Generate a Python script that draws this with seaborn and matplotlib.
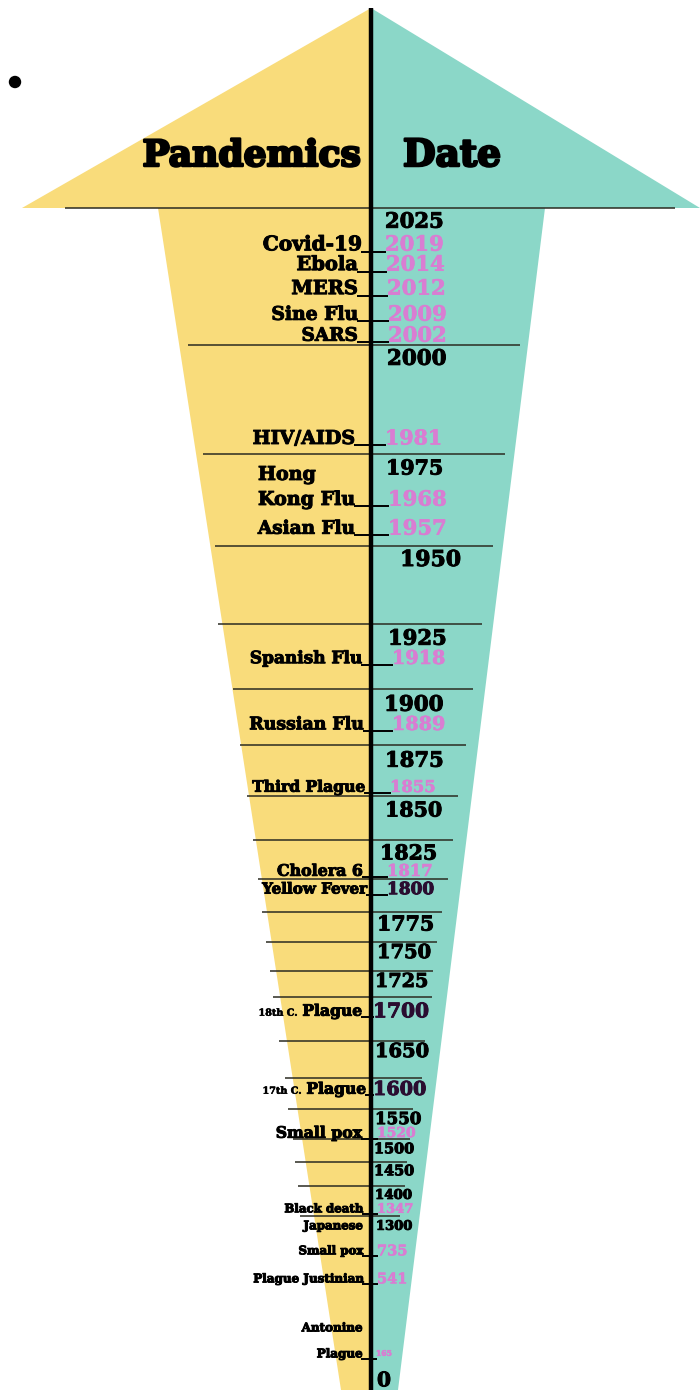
import numpy as np
import matplotlib
matplotlib.use("Agg")
import matplotlib.pyplot as plt
import matplotlib.patheffects as pe
import seaborn as sns

# ---- data -------------------------------------------------------------
events = ["Covid-19", "Ebola", "MERS", "Sine Flu", "SARS", "HIV/AIDS",
          "Hong\nKong Flu", "Asian Flu", "Spanish Flu", "Russian Flu",
          "Third Plague", "Cholera 6", "Yellow Fever", "18th C. Plague",
          "17th C. Plague", "Small pox", "Black death", "Japanese\nSmall pox",
          "Plague Justinian", "Antonine\nPlague"]
event_years = [2019, 2014, 2012, 2009, 2002, 1981, 1968, 1957, 1918, 1889,
               1855, 1817, 1800, 1700, 1600, 1520, 1347, 735, 541, 165]
scale_years = [2025, 2000, 1975, 1950, 1925, 1900, 1875, 1850, 1825, 1800,
               1775, 1750, 1725, 1700, 1650, 1600, 1550, 1500, 1450, 1400,
               1300, 0]

# ---- layout (pixel rows of the hand-drawn timeline) ------------------
event_y = [243, 263, 287, 313, 334, 437, 498, 527, 657, 723, 786, 870, 888,
           1010, 1088, 1132, 1208, 1250, 1278, 1353]
event_fs = [14.5, 14, 14, 13.5, 13.3, 13.7, 13.7, 13.3, 12.2, 12.5, 11.2, 11.4,
            10.9, 11.2, 11.2, 11.3, 8.5, 8.5, 8.6, 8.6]
label_right = [362, 358, 358, 358, 358, 355, 355, 355, 362, 364, 365, 363,
               367, 362, 366, 362, 363, 363, 363, 362]
line_gap = [0, 0, 0, 0, 0, 0, 25, 0, 0, 0, 0, 0, 0, 0, 0, 0, 0, 25, 0, 26]
first_align = ["right"] * 6 + ["left"] + ["right"] * 13
year_x = [385, 386, 387, 388, 388, 385, 388, 388, 392, 392, 390, 387, 387,
          373, 373, 377, 377, 377, 377, 376]
year_fs = [15.2, 15.2, 15.2, 15.2, 15.2, 14.8, 15.2, 15.2, 13.8, 13.8, 11.8,
           11.8, 12, 14, 14, 10, 9.4, 10.5, 10.5, 5.5]

scale_y = [220, 357, 467, 558, 637, 703, 759, 809, 852, 888, 923, 951, 980,
           1010, 1050, 1088, 1118, 1148, 1170, 1194, 1225, 1379]
scale_x = [385, 387, 386, 400, 388, 384, 385, 385, 380, 387, 377, 377, 375,
           373, 375, 373, 375, 374, 374, 375, 376, 377]
scale_fs = [15.2, 15.4, 14.8, 15.8, 15.2, 15.4, 15.2, 14.8, 14.8, 12.2, 14.8,
            14, 13.8, 14.5, 14, 13.8, 12, 10.4, 10.4, 9.6, 9.4, 14.5]

sep_y = [208, 345, 454, 546, 624, 689, 745, 796, 840, 879, 912, 942, 971, 997,
         1041, 1078, 1109, 1139, 1162, 1186, 1216]
sep_x0 = [65, 188, 203, 215, 218, 233, 240, 247, 253, 258, 262, 266, 270, 273,
          279, 285, 288, 293, 295, 298, 300]
sep_x1 = [675, 520, 505, 493, 482, 473, 466, 458, 453, 448, 442, 437, 433, 432,
          425, 422, 413, 410, 407, 405, 400]

YELLOW = "#f9dc7b"
TEAL = "#8bd7c8"
PINK = "#d97dd2"
FONT = "DejaVu Serif"

sns.set_theme(style="white")
plt.rcParams["font.family"] = [FONT, "DejaVu Sans"]

fig = plt.figure(figsize=(7, 13.9), dpi=100)
ax = fig.add_axes([0, 0, 1, 1])
ax.set_xlim(0, 700)
ax.set_ylim(1390, 0)
ax.axis("off")
renderer = fig.canvas.get_renderer()

AX_X = 371

# arrow head and shaft
ax.fill([22, AX_X, AX_X], [208, 8, 208], color=YELLOW, lw=0)
ax.fill([AX_X, 700, AX_X], [8, 208, 208], color=TEAL, lw=0)
ax.fill([158, AX_X, AX_X, 341], [208, 208, 1390, 1390], color=YELLOW, lw=0)
ax.fill([AX_X, 545, 398, AX_X], [208, 208, 1390, 1390], color=TEAL, lw=0)

# separators and the time axis
ax.hlines(sep_y, sep_x0, sep_x1, color="#2b2b22", lw=1.1, zorder=2)
ax.vlines(AX_X, 8, 1390, color="black", lw=3.2, zorder=3)

# bullet
sns.scatterplot(x=[15], y=[82], s=80, color="black", edgecolor="none", ax=ax,
                legend=False)


def px(fs):
    return fs * 100 / 72


def label(x, y, s, fs, color="black", ha="left", stroke=0.7):
    return ax.text(x, y, s, ha=ha, va="baseline", fontsize=fs,
                   fontweight="bold", color=color, zorder=5,
                   path_effects=[pe.withStroke(linewidth=stroke,
                                               foreground=color)])


# headings
label(361, 166, "Pandemics", 26, ha="right", stroke=1.8)
label(403, 166, "Date", 27, stroke=1.8)

# scale years
for yr, x, y, fs in zip(scale_years, scale_x, scale_y, scale_fs):
    col = "#2a0d30" if yr in event_years else "black"
    label(x, y + 0.365 * px(fs), str(yr), fs, color=col)

# events with their ticks and years
for name, yr, y, fs, xr, gap, al, yx, yfs in zip(
        events, event_years, event_y, event_fs, label_right, line_gap,
        first_align, year_x, year_fs):
    base = y + 0.365 * px(fs)
    lines = name.split("\n")
    last = None
    for k in range(len(lines) - 1, -1, -1):
        line = lines[k]
        by = base - (len(lines) - 1 - k) * gap
        if " C. " in line:
            pre, main = line.split(" C. ")
            t = label(xr, by, main, fs, ha="right")
            x0 = ax.transData.inverted().transform(
                t.get_window_extent(renderer).p0)[0]
            label(x0 - 5, by, pre + " C.", fs * 0.62, ha="right", stroke=0.4)
        elif last is not None and al == "left":
            label(last, by, line, fs, ha="left")
        else:
            t = label(xr, by, line, fs, ha="right")
            last = ax.transData.inverted().transform(
                t.get_window_extent(renderer).p0)[0]
    ax.plot([xr - 1, yx + 1], [base + 1.5, base + 1.5], color="black", lw=1.4,
            solid_capstyle="butt", zorder=4)
    if yr not in scale_years:
        label(yx, y + 0.365 * px(yfs), str(yr), yfs, color=PINK, stroke=0.4)

fig.savefig("out.png", dpi=100)
